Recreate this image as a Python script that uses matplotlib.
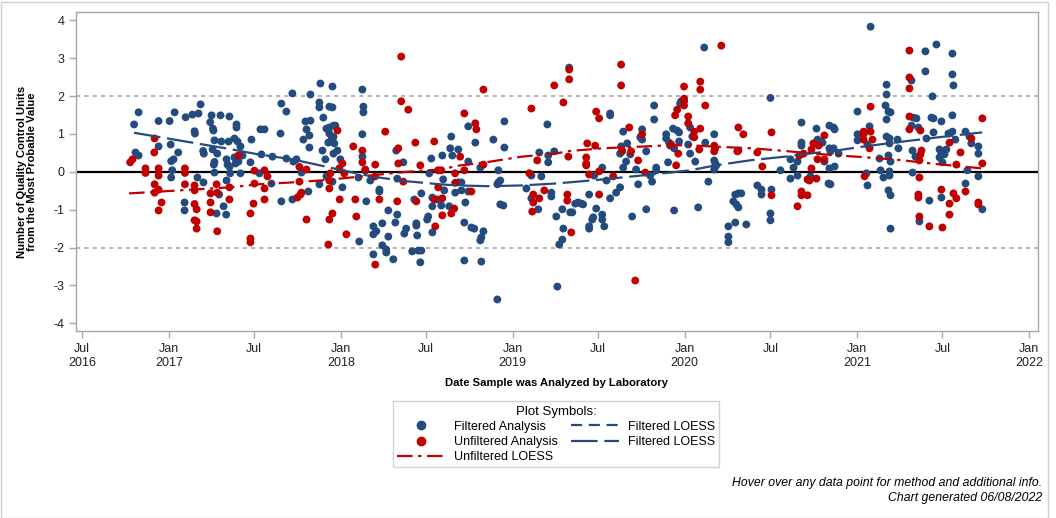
import matplotlib
matplotlib.use("Agg")
import matplotlib.pyplot as plt
import matplotlib.dates as mdates
from matplotlib.lines import Line2D
from matplotlib.patches import Rectangle
from datetime import datetime

plt.rcParams['font.family'] = ['Liberation Sans', 'DejaVu Sans']

# ---------------- data (decimal year, units from MPV) ----------------
filtered_years = [
    2016.824, 2016.798, 2017.033, 2017.004, 2016.940, 2017.097, 2017.137, 2017.172, 2017.184, 2017.248,
    2017.300, 2017.352, 2017.240, 2017.256, 2017.259, 2017.149, 2017.151, 2017.010, 2016.940, 2017.265,
    2017.304, 2017.347, 2017.199, 2017.203, 2017.054, 2017.027, 2017.013, 2016.806, 2016.824, 2017.254,
    2017.281, 2017.265, 2017.261, 2017.335, 2017.341, 2017.352, 2017.019, 2017.265, 2017.013, 2017.166,
    2017.201, 2017.335, 2017.356, 2017.292, 2017.091, 2017.091, 2017.318, 2017.277, 2017.333,
    2017.393, 2017.393, 2017.381, 2017.399, 2017.416, 2017.428, 2017.381, 2017.387, 2017.404, 2017.416,
    2017.474, 2017.480, 2017.532, 2017.556, 2017.538, 2017.602, 2017.654, 2017.683, 2017.649, 2017.683,
    2017.718, 2017.823, 2017.794, 2017.823, 2017.800, 2017.782, 2017.817, 2017.817, 2017.742, 2017.724,
    2017.771, 2017.881, 2017.951, 2017.875, 2017.875, 2017.933, 2017.951, 2017.898, 2017.893, 2017.910,
    2017.916, 2017.933, 2017.957, 2017.968, 2017.933, 2017.957, 2017.945, 2017.927, 2017.962, 2017.957,
    2017.980, 2017.997, 2017.811, 2017.654, 2017.718, 2017.875, 2017.916, 2017.951, 2018.009, 2017.527,
    2017.596,
    2018.125, 2018.131, 2018.131, 2018.125, 2018.125, 2018.142, 2018.171, 2018.102, 2018.148, 2018.224,
    2018.224, 2018.276, 2018.241, 2018.189, 2018.206, 2018.189, 2018.276, 2018.241, 2018.264, 2018.264,
    2018.189, 2018.305, 2018.107, 2018.328, 2018.317, 2018.369, 2018.380, 2018.439, 2018.439, 2018.444,
    2018.415, 2018.450, 2018.468, 2018.462, 2018.322, 2018.363, 2018.328, 2018.427, 2018.468, 2018.514,
    2018.526, 2018.590, 2018.642, 2018.636, 2018.648, 2018.683, 2018.595, 2018.601, 2018.532, 2018.561,
    2018.584, 2018.532, 2018.508, 2018.502, 2018.532, 2018.630, 2018.665, 2018.683,
    2018.741, 2018.782, 2018.741, 2018.811, 2018.701, 2018.701, 2018.741, 2018.724, 2018.718, 2018.759,
    2018.776, 2018.829, 2018.817, 2018.811, 2018.718, 2018.817, 2018.887, 2018.951, 2018.951, 2018.916,
    2018.916, 2018.927, 2018.910, 2018.927, 2018.945, 2018.910, 2019.079, 2019.108, 2019.166, 2019.108,
    2019.148, 2019.154, 2019.206, 2019.206, 2019.241, 2019.201, 2019.224, 2019.224, 2019.253, 2019.288,
    2019.294, 2019.288, 2019.270, 2019.259, 2019.328, 2019.334, 2019.346, 2019.363,
    2019.566, 2019.566, 2019.642, 2019.630, 2019.665, 2019.624, 2019.636, 2019.683, 2019.659, 2019.642,
    2019.520, 2019.473, 2019.545, 2019.444, 2019.485, 2019.468, 2019.462, 2019.520, 2019.520, 2019.532,
    2019.444, 2019.444, 2019.566, 2019.601, 2019.624, 2019.717, 2019.694, 2019.729, 2019.752, 2019.741,
    2019.752, 2019.776, 2019.822, 2019.822, 2019.799, 2019.810, 2019.834, 2019.834, 2019.776, 2019.903,
    2019.892, 2019.892, 2019.909, 2019.932, 2019.956, 2019.967, 2019.967, 2019.938, 2019.915, 2019.973,
    2019.979, 2020.031, 2019.938, 2019.380, 2019.398, 2019.409, 2020.031,
    2020.113, 2020.497, 2020.119, 2020.061, 2020.171, 2020.171, 2020.177, 2020.183, 2020.171, 2020.137,
    2020.078, 2020.282, 2020.293, 2020.311, 2020.328, 2020.299, 2020.311, 2020.253, 2020.293, 2020.357,
    2020.253, 2020.253, 2020.421, 2020.445, 2020.445, 2020.503, 2020.497, 2020.497, 2020.555, 2020.613,
    2020.631, 2020.613, 2020.654, 2020.654, 2020.677, 2020.677, 2020.677, 2020.044, 2020.020,
    2021.078, 2021.171, 2021.171, 2021.165, 2021.182, 2021.194, 2021.171, 2021.002, 2021.002, 2021.002,
    2021.072, 2021.060, 2021.171, 2021.188, 2021.188, 2021.235, 2021.240, 2021.130, 2021.182, 2021.194,
    2021.136, 2021.153, 2021.188, 2021.188, 2021.054, 2021.060, 2021.182, 2021.194, 2021.194, 2020.839,
    2020.863, 2020.869, 2020.764, 2020.770, 2020.787, 2020.799, 2020.839, 2020.863, 2020.845, 2020.892,
    2020.839, 2020.869, 2020.834, 2020.845, 2020.810, 2020.729,
    2021.397, 2021.461, 2021.554, 2021.397, 2021.554, 2021.560, 2021.316, 2021.438, 2021.345, 2021.327,
    2021.432, 2021.444, 2021.490, 2021.554, 2021.316, 2021.356, 2021.444, 2021.403, 2021.531, 2021.554,
    2021.571, 2021.630, 2021.664, 2021.653, 2021.705, 2021.705, 2021.705, 2021.641, 2021.630, 2021.322,
    2021.339, 2021.479, 2021.490, 2021.519, 2021.508, 2021.479, 2021.496, 2021.322, 2021.490, 2021.420,
    2021.362, 2021.728,
]
filtered_values = [
    1.57, 1.25, 1.57, 1.34, 1.34, 1.44, 1.51, 1.54, 1.78, 1.49,
    1.49, 1.46, 1.31, 1.14, 1.09, 1.07, 1.01, 0.72, 0.67, 0.83,
    0.80, 0.80, 0.55, 0.48, 0.51, 0.33, 0.28, 0.51, 0.43, 0.59,
    0.48, 0.26, 0.19, 0.33, 0.19, 0.13, 0.04, -0.02, -0.15, -0.15,
    -0.28, -0.23, -0.04, -0.60, -0.81, -1.02, -0.91, -1.10, -1.13,
    1.25, 1.17, 0.88, 0.80, 0.67, 0.43, 0.38, 0.22, 0.27, -0.04,
    0.25, 0.85, 1.12, 1.12, 0.46, 0.40, 1.80, 1.59, 1.01, 0.35,
    2.07, 2.04, 1.33, 1.35, 1.12, 0.85, 0.96, 0.64, 0.33, 0.27,
    -0.02, 2.33, 2.25, 1.83, 1.70, 1.72, 1.70, 1.43, 0.56, 0.33,
    1.14, 1.17, 1.22, 1.22, 1.01, 0.92, 0.85, 0.77, 0.75, 0.48,
    0.56, 0.33, -0.52, -0.78, -0.73, -0.33, -0.12, -0.26, -0.41, -0.04,
    -0.31,
    2.17, 1.72, 1.57, 0.99, 0.40, 0.03, -0.23, -0.15, -0.78, -0.47,
    -0.52, -1.02, -1.36, -1.44, -1.57, -1.65, -1.71, -1.94, -2.05, -2.13,
    -2.18, -2.31, -1.84, -1.13, -1.34, -1.63, -1.50, -1.36, -1.42, -1.68,
    -2.10, -2.08, -2.08, -2.39, 0.56, 0.25, -0.18, -0.73, -0.57, -0.04,
    0.35, 0.43, 0.93, 0.62, 0.43, 0.59, -0.20, -0.49, -0.68, -0.73,
    -0.89, -0.91, -1.18, -1.26, -1.60, -0.91, -0.55, -0.28,
    1.20, 0.77, 0.27, 0.11, -0.28, -0.49, -0.52, -0.81, -1.34, -1.47,
    -1.50, -1.57, -1.73, -1.81, -2.34, -2.37, 0.85, 1.33, 0.64, 0.04,
    -0.28, -0.23, -0.33, -0.86, -0.89, -3.37, -0.44, -0.10, -0.12, -0.70,
    -0.99, 0.51, 0.25, 0.43, 0.54, 1.25, -0.55, -0.65, -1.18, -0.99,
    -1.50, -1.79, -1.92, -3.03, 2.75, -1.07, -1.07, -0.84,
    1.54, 1.49, 1.06, 0.67, 0.75, 0.48, 0.54, 0.46, 0.27, 0.11,
    0.11, -0.10, -0.23, -0.60, -0.97, -1.20, -1.26, -1.13, -1.26, -1.44,
    -1.44, -1.50, -0.70, -0.55, -0.41, 0.06, -1.18, -0.33, 1.12, 0.91,
    0.85, 0.54, 1.75, 1.38, -0.10, -0.26, 0.11, 0.04, -0.99, 0.25,
    0.99, 0.88, 0.77, 1.14, 1.09, 1.04, 0.80, 0.62, 0.69, 1.80,
    1.86, 1.17, -1.02, -0.81, -0.84, -0.86, 0.48,
    3.28, 1.95, 0.77, 0.27, 0.99, 0.30, 0.22, 0.17, 0.06, -0.26,
    -0.94, -0.78, -0.60, -0.57, -0.57, -0.86, -0.94, -1.44, -1.34, -1.39,
    -1.71, -1.86, -0.36, -0.47, -0.60, -0.47, -1.10, -1.28, 0.04, 0.33,
    0.11, -0.18, 0.27, -0.10, 1.30, 0.77, 0.69, 0.93, 0.72,
    3.83, 2.30, 2.04, 1.75, 1.59, 1.57, 1.38, 1.59, 0.99, 0.83,
    1.20, 0.72, 0.93, 0.88, 0.75, 0.85, 0.62, 0.35, 0.43, 0.27,
    0.04, -0.15, 0.01, -0.10, -0.04, -0.36, -0.49, -0.62, -1.50, 1.22,
    1.17, 1.12, 1.14, 0.85, 0.80, 0.77, 0.62, 0.62, 0.54, 0.48,
    0.09, 0.14, -0.31, -0.33, 0.27, -0.12,
    3.18, 3.36, 3.12, 2.65, 2.57, 2.28, 2.41, 1.99, 1.41, 1.43,
    1.43, 1.41, 1.33, 1.49, 1.22, 1.17, 1.04, 0.88, 1.01, 1.06,
    0.85, 1.06, 0.75, 0.93, 0.67, 0.48, -0.12, 0.04, -0.31, 0.56,
    0.40, 0.59, 0.48, 0.59, 0.46, 0.38, 0.25, -0.02, -0.68, -0.76,
    -1.31, -0.99,
]

unfiltered_years = [
    2016.917, 2016.915, 2016.789, 2016.775, 2016.864, 2016.864, 2016.940, 2016.940, 2017.093, 2017.093,
    2016.917, 2016.917, 2016.940, 2016.957, 2016.940, 2017.093, 2017.149, 2017.149, 2017.149, 2017.161,
    2017.149, 2017.161, 2017.161, 2017.242, 2017.242, 2017.242, 2017.277, 2017.281, 2017.281, 2017.352,
    2017.352,
    2017.404, 2017.497, 2017.497, 2017.556, 2017.573, 2017.556, 2017.556, 2017.492, 2017.474, 2017.474,
    2017.474, 2017.759, 2017.800, 2017.759, 2017.771, 2017.765, 2017.747, 2017.800, 2017.939, 2017.933,
    2017.933, 2017.951, 2017.933, 2017.927, 2017.980, 2017.993, 2017.991, 2018.009, 2018.020,
    2018.351, 2018.351, 2018.392, 2018.258, 2018.072, 2018.125, 2018.125, 2018.142, 2018.200, 2018.200,
    2018.334, 2018.334, 2018.363, 2018.433, 2018.462, 2018.543, 2018.566, 2018.584, 2018.566, 2018.543,
    2018.590, 2018.590, 2018.549, 2018.642, 2018.659, 2018.665, 2018.694, 2018.084, 2018.224, 2018.328,
    2018.439, 2018.090, 2018.032, 2018.200,
    2018.718, 2018.782, 2018.788, 2018.718, 2018.759, 2018.829, 2018.829, 2019.108, 2019.142, 2019.096,
    2019.119, 2019.119, 2019.113, 2019.154, 2019.183, 2019.241, 2019.294, 2019.328, 2019.328, 2019.323,
    2019.317, 2019.317, 2019.340, 2018.664,
    2019.630, 2019.630, 2019.485, 2019.502, 2019.433, 2019.479, 2019.427, 2019.427, 2019.427, 2019.502,
    2019.444, 2019.584, 2019.502, 2019.677, 2019.752, 2019.688, 2019.636, 2019.729, 2019.770, 2019.712,
    2019.996, 2019.996, 2019.996, 2019.996, 2019.956, 2019.944, 2020.020, 2020.020, 2019.921, 2019.962,
    2019.950,
    2020.212, 2020.090, 2020.090, 2020.119, 2020.090, 2020.055, 2020.055, 2020.084, 2020.171, 2020.177,
    2020.171, 2020.311, 2020.340, 2020.311, 2020.305, 2020.421, 2020.450, 2020.503, 2020.503, 2020.654,
    2020.677, 2020.677, 2020.665, 2020.689,
    2021.078, 2021.037, 2021.037, 2021.078, 2021.037, 2021.089, 2021.072, 2021.043, 2020.810, 2020.776,
    2020.746, 2020.735, 2020.770, 2020.810, 2020.735, 2020.712, 2020.723, 2020.764, 2020.712,
    2021.304, 2021.304, 2021.304, 2021.304, 2021.304, 2021.368, 2021.728, 2021.664, 2021.537, 2021.601,
    2021.374, 2021.368, 2021.362, 2021.577, 2021.728, 2021.362, 2021.356, 2021.356, 2021.490, 2021.560,
    2021.577, 2021.630, 2021.537, 2021.537, 2021.705, 2021.705, 2021.362, 2021.420, 2021.496,
]
unfiltered_values = [
    0.88, 0.51, 0.33, 0.25, 0.09, -0.03, 0.09, -0.10, 0.09, -0.03,
    -0.33, -0.55, -0.47, -0.81, -1.02, -0.33, -0.36, -0.49, -0.85, -0.99,
    -1.28, -1.31, -1.50, -0.57, -0.81, -1.07, -0.33, -0.55, -1.57, -0.41,
    -0.73,
    0.43, 0.03, -0.31, 0.04, -0.12, -0.44, -0.73, -0.84, -1.10, -1.76,
    -1.86, 0.13, 0.06, -0.26, -0.55, -0.60, -0.68, -1.26, -0.04, -0.23,
    -0.44, -1.10, -1.26, -1.92, 1.09, -0.73, 0.09, 0.22, -0.04,
    3.04, 1.86, 1.64, 1.06, 0.67, 0.56, 0.25, 0.06, 0.19, -0.12,
    0.62, 0.22, -0.26, 0.77, 0.17, 0.80, 0.04, 0.04, -0.41, -0.73,
    -0.70, -1.15, -1.44, -1.10, -0.97, -0.29, 0.40, -0.73, -0.73, -0.78,
    -0.78, -1.18, -1.65, -2.45,
    1.54, 1.28, 1.12, 0.04, -0.52, 2.17, 0.19, 1.67, 0.30, -0.04,
    -0.60, -0.81, -1.05, -0.70, -0.49, 2.28, 1.83, 2.70, 2.44, 0.40,
    -0.60, -0.76, -1.60, -0.04,
    2.83, 2.28, 1.59, 1.41, 0.75, 0.69, 0.38, 0.22, 0.17, 0.01,
    -0.07, -0.12, -0.60, 1.17, 0.99, 0.54, 0.56, 0.30, -0.02, -2.87,
    2.25, 1.93, 1.86, 1.75, 1.64, 1.49, 1.46, 1.28, 0.72, 0.48,
    0.17,
    3.33, 2.38, 2.17, 1.75, 1.14, 1.06, 0.91, 0.59, 0.69, 0.62,
    0.54, 1.17, 0.99, 0.56, 0.54, 0.51, 0.14, 1.04, -0.62, -0.91,
    -0.52, -0.62, 0.43, 0.48,
    1.72, 1.06, 0.99, 1.06, 0.85, 0.85, 0.62, -0.12, 0.96, 0.69,
    0.75, 0.59, 0.33, 0.33, 0.09, -0.20, -0.23, -0.18, -0.62,
    3.20, 2.49, 2.20, 1.46, 1.12, 1.09, 1.41, 0.88, 0.77, 0.51,
    0.56, 0.46, 0.30, 0.19, 0.22, -0.15, -0.60, -0.68, -0.47, -0.57,
    -0.70, -0.52, -0.84, -1.13, -0.81, -0.86, -1.18, -1.44, -1.47,
]

filtered_loess_years = [2016.798, 2017.356, 2017.519, 2017.717, 2017.868, 2018.007, 2018.187, 2018.385,
                        2018.577, 2018.681, 2018.856, 2019.053, 2019.245, 2019.350, 2019.524, 2019.722,
                        2019.914, 2020.030, 2020.192, 2020.390, 2020.582, 2020.698, 2020.861, 2021.058,
                        2021.250, 2021.471, 2021.727]
filtered_loess_values = [1.03, 0.60, 0.46, 0.33, 0.18, 0.04, -0.13, -0.25,
                         -0.33, -0.36, -0.38, -0.36, -0.31, -0.27, -0.20, -0.11,
                         -0.02, 0.04, 0.18, 0.31, 0.40, 0.47, 0.55, 0.68,
                         0.79, 0.91, 1.04]
unfiltered_loess_years = [2016.769, 2017.356, 2017.519, 2017.717, 2017.908, 2018.187, 2018.385, 2018.577,
                          2018.681, 2018.856, 2019.053, 2019.245, 2019.332, 2019.524, 2019.722, 2019.914,
                          2020.030, 2020.192, 2020.390, 2020.582, 2020.698, 2020.861, 2021.058, 2021.250,
                          2021.471, 2021.727]
unfiltered_loess_values = [-0.57, -0.41, -0.33, -0.28, -0.22, -0.09, 0.00, 0.06,
                           0.16, 0.26, 0.40, 0.48, 0.55, 0.62, 0.66, 0.70,
                           0.70, 0.66, 0.62, 0.55, 0.50, 0.44, 0.38, 0.31,
                           0.20, 0.09]

y_ticks = [-4, -3, -2, -1, 0, 1, 2, 3, 4]
x_tick_dates = ["2016-07-01", "2017-01-01", "2017-07-01", "2018-01-01", "2018-07-01", "2019-01-01",
                "2019-07-01", "2020-01-01", "2020-07-01", "2021-01-01", "2021-07-01", "2022-01-01"]
x_tick_labels = ["Jul\n2016", "Jan\n2017", "Jul", "Jan\n2018", "Jul", "Jan\n2019",
                 "Jul", "Jan\n2020", "Jul", "Jan\n2021", "Jul", "Jan\n2022"]
x_range_years = [2016.461, 2022.050]


def dec_to_num(y):
    yr = int(y)
    a = datetime(yr, 1, 1)
    b = datetime(yr + 1, 1, 1)
    return mdates.date2num(a + (y - yr) * (b - a))


BLUE = '#234B7E'
RED = '#C00000'
GRAY = '#A8A8A8'

W, H = 1056, 518
fig = plt.figure(figsize=(W / 100, H / 100), dpi=100)
fig.patches.append(Rectangle((0.5 / W, 0.5 / H), (W - 9) / W, (H - 2) / H, transform=fig.transFigure,
                             fill=False, edgecolor='#D0D0D0', linewidth=1.0))

ax = fig.add_axes([76 / W, 1 - 331.3 / H, (1037.7 - 76) / W, (331.3 - 12.3) / H])

fx = [dec_to_num(v) for v in filtered_years]
ux = [dec_to_num(v) for v in unfiltered_years]

# reference lines
ax.axhline(0, color='black', linewidth=1.6, zorder=2)
for yv in (2, -2):
    ax.axhline(yv, color=GRAY, linewidth=1.2, dashes=(2.5, 2.5), zorder=1)

ax.scatter(fx, filtered_values, s=32, color=BLUE, edgecolors='none', zorder=3)
ax.scatter(ux, unfiltered_values, s=32, color=RED, edgecolors='none', zorder=3)

ax.plot([dec_to_num(v) for v in filtered_loess_years], filtered_loess_values, color=BLUE,
        linewidth=1.6, dashes=(12, 3), zorder=4)
ax.plot([dec_to_num(v) for v in unfiltered_loess_years], unfiltered_loess_values, color=RED,
        linewidth=1.6, dashes=(7, 2.5, 1.5, 2.5), zorder=4)

ax.set_xlim(dec_to_num(x_range_years[0]), dec_to_num(x_range_years[1]))
ax.set_ylim(-4.21, 4.21)
ax.set_yticks(y_ticks)
ax.set_yticklabels([str(t) for t in y_ticks])
ax.set_xticks([mdates.date2num(datetime.strptime(d, "%Y-%m-%d")) for d in x_tick_dates])
ax.set_xticklabels(x_tick_labels)
ax.tick_params(axis='both', colors=GRAY, labelcolor='#222222', labelsize=9, length=5, width=1)
for sp in ax.spines.values():
    sp.set_color(GRAY)
    sp.set_linewidth(1)

fig.text(27 / W, 1 - 171.7 / H, "Number of Quality Control Units\nfrom the Most Probable Value",
         rotation=90, ha='center', va='center', fontsize=8.1, fontweight='bold', linespacing=1.1)
fig.text(556.9 / W, 1 - 383 / H, "Date Sample was Analyzed by Laboratory", ha='center', va='center',
         fontsize=8.1, fontweight='bold')

handles = [
    Line2D([], [], linestyle='none', marker='o', markersize=6, color=BLUE),
    Line2D([], [], linestyle='none', marker='o', markersize=6, color=RED),
    Line2D([], [], color=RED, linewidth=1.6, dashes=(7, 2.5, 1.5, 2.5)),
    Line2D([], [], color=BLUE, linewidth=1.6, dashes=(5, 3)),
    Line2D([], [], color=BLUE, linewidth=1.6, dashes=(12, 3)),
]
labels = ["Filtered Analysis", "Unfiltered Analysis", "Unfiltered LOESS", "Filtered LOESS", "Filtered LOESS"]
leg = fig.legend(handles, labels, ncol=2, loc='upper center', bbox_to_anchor=(556 / W, 1 - 395 / H),
                 title="Plot Symbols:", fontsize=9, title_fontsize=9.5, frameon=True, fancybox=False,
                 edgecolor='#C8C8C8', handlelength=3.8, handletextpad=0.7, columnspacing=1.1,
                 labelspacing=0.25, borderpad=0.35)
leg.get_frame().set_linewidth(1)

fig.text(1042 / W, 1 - 483 / H, "Hover over any data point for method and additional info.",
         ha='right', va='center', fontsize=8.8, style='italic')
fig.text(1042 / W, 1 - 498 / H, "Chart generated 06/08/2022",
         ha='right', va='center', fontsize=8.8, style='italic')

fig.savefig("out.png", dpi=100)
